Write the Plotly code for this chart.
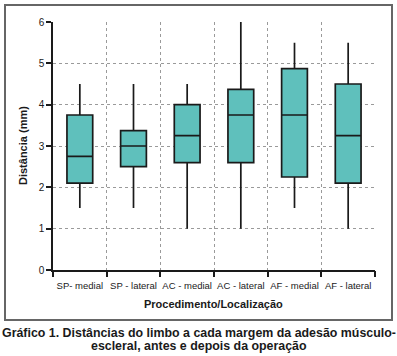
import plotly.graph_objects as go

categories = ["SP- medial", "SP - lateral", "AC - medial", "AC - lateral", "AF - medial", "AF - lateral"]
lower = [1.5, 1.5, 1.0, 1.0, 1.5, 1.0]
q1 = [2.1, 2.5, 2.6, 2.6, 2.25, 2.1]
median = [2.75, 3.0, 3.25, 3.75, 3.75, 3.25]
q3 = [3.75, 3.37, 4.0, 4.37, 4.87, 4.5]
upper = [4.5, 4.5, 4.5, 6.0, 5.5, 5.5]
y_ticks = [0, 1, 2, 3, 4, 5, 6]

n = len(categories)
xpos = list(range(n))

fig = go.Figure()
fig.add_trace(go.Box(
    x=xpos, q1=q1, median=median, q3=q3, lowerfence=lower, upperfence=upper,
    fillcolor="#5fc0bc", line=dict(color="#1a1a1a", width=1.7),
    whiskerwidth=0, width=0.48, boxpoints=False, showlegend=False, hoverinfo="skip",
))
# invisible trace for the boundary axis
fig.add_trace(go.Scatter(x=[-0.5, n - 0.5], y=[0, 0], xaxis="x2", mode="markers",
                         marker=dict(opacity=0), showlegend=False, hoverinfo="skip"))

W, H = 397, 356
ml, mr, mt, mb = 53, 22, 22, 86
pw, ph = W - ml - mr, H - mt - mb

def px(x):
    return (x - ml) / pw

def py(y):
    return (H - mb - y) / ph

cap_font = dict(size=12.4, family="Arial, Liberation Sans", color="#1a1a1a")

fig.update_layout(
    width=W, height=H, margin=dict(l=ml, r=mr, t=mt, b=mb),
    plot_bgcolor="white", paper_bgcolor="white",
    font=dict(family="Arial, Liberation Sans", size=10, color="#1a1a1a"),
    xaxis=dict(range=[-0.5, n - 0.5], tickvals=xpos, ticktext=categories,
               showgrid=False, zeroline=False, showline=True, linecolor="#1a1a1a", linewidth=1.5,
               ticks="outside", ticklen=6, tickcolor="rgba(0,0,0,0)", tickfont=dict(size=9.5)),
    xaxis2=dict(range=[-0.5, n - 0.5], overlaying="x", side="bottom",
                tickvals=[i - 0.5 for i in range(n + 1)], showticklabels=False,
                ticks="outside", ticklen=6, tickwidth=1.5, tickcolor="#1a1a1a",
                showgrid=True, gridcolor="#9a9a9a", griddash="3px,3px", gridwidth=1,
                zeroline=False, showline=False),
    yaxis=dict(range=[0, 6], tickvals=y_ticks, showgrid=True, gridcolor="#9a9a9a",
               griddash="3px,3px", gridwidth=1, zeroline=False, showline=True,
               linecolor="#1a1a1a", linewidth=1.5, ticks="outside", ticklen=5,
               tickwidth=1.5, tickcolor="#1a1a1a", tickfont=dict(size=10)),
    shapes=[dict(type="rect", xref="paper", yref="paper",
                 x0=px(5), x1=px(392), y0=py(320), y1=py(5),
                 line=dict(color="#666666", width=2), fillcolor="rgba(0,0,0,0)", layer="below")],
    annotations=[
        dict(text="<b>Procedimento/Localização</b>", xref="paper", yref="paper",
             x=px(213), y=py(304), xanchor="center", yanchor="middle",
             showarrow=False, font=dict(size=11)),
        dict(text="<b>Distância (mm)</b>", xref="paper", yref="paper", textangle=-90,
             x=px(23), y=py(146), xanchor="center", yanchor="middle",
             showarrow=False, font=dict(size=11)),
        dict(text="<b>Gráfico 1. Distâncias do limbo a cada margem da adesão músculo-</b>",
             xref="paper", yref="paper", x=px(199), y=py(333), xanchor="center", yanchor="middle",
             showarrow=False, font=cap_font),
        dict(text="<b>escleral, antes e depois da operação</b>",
             xref="paper", yref="paper", x=px(199), y=py(346), xanchor="center", yanchor="middle",
             showarrow=False, font=cap_font),
    ],
)

fig.write_html("out.html", config={"displayModeBar": False},
               post_script="document.body.style.margin='0';")
